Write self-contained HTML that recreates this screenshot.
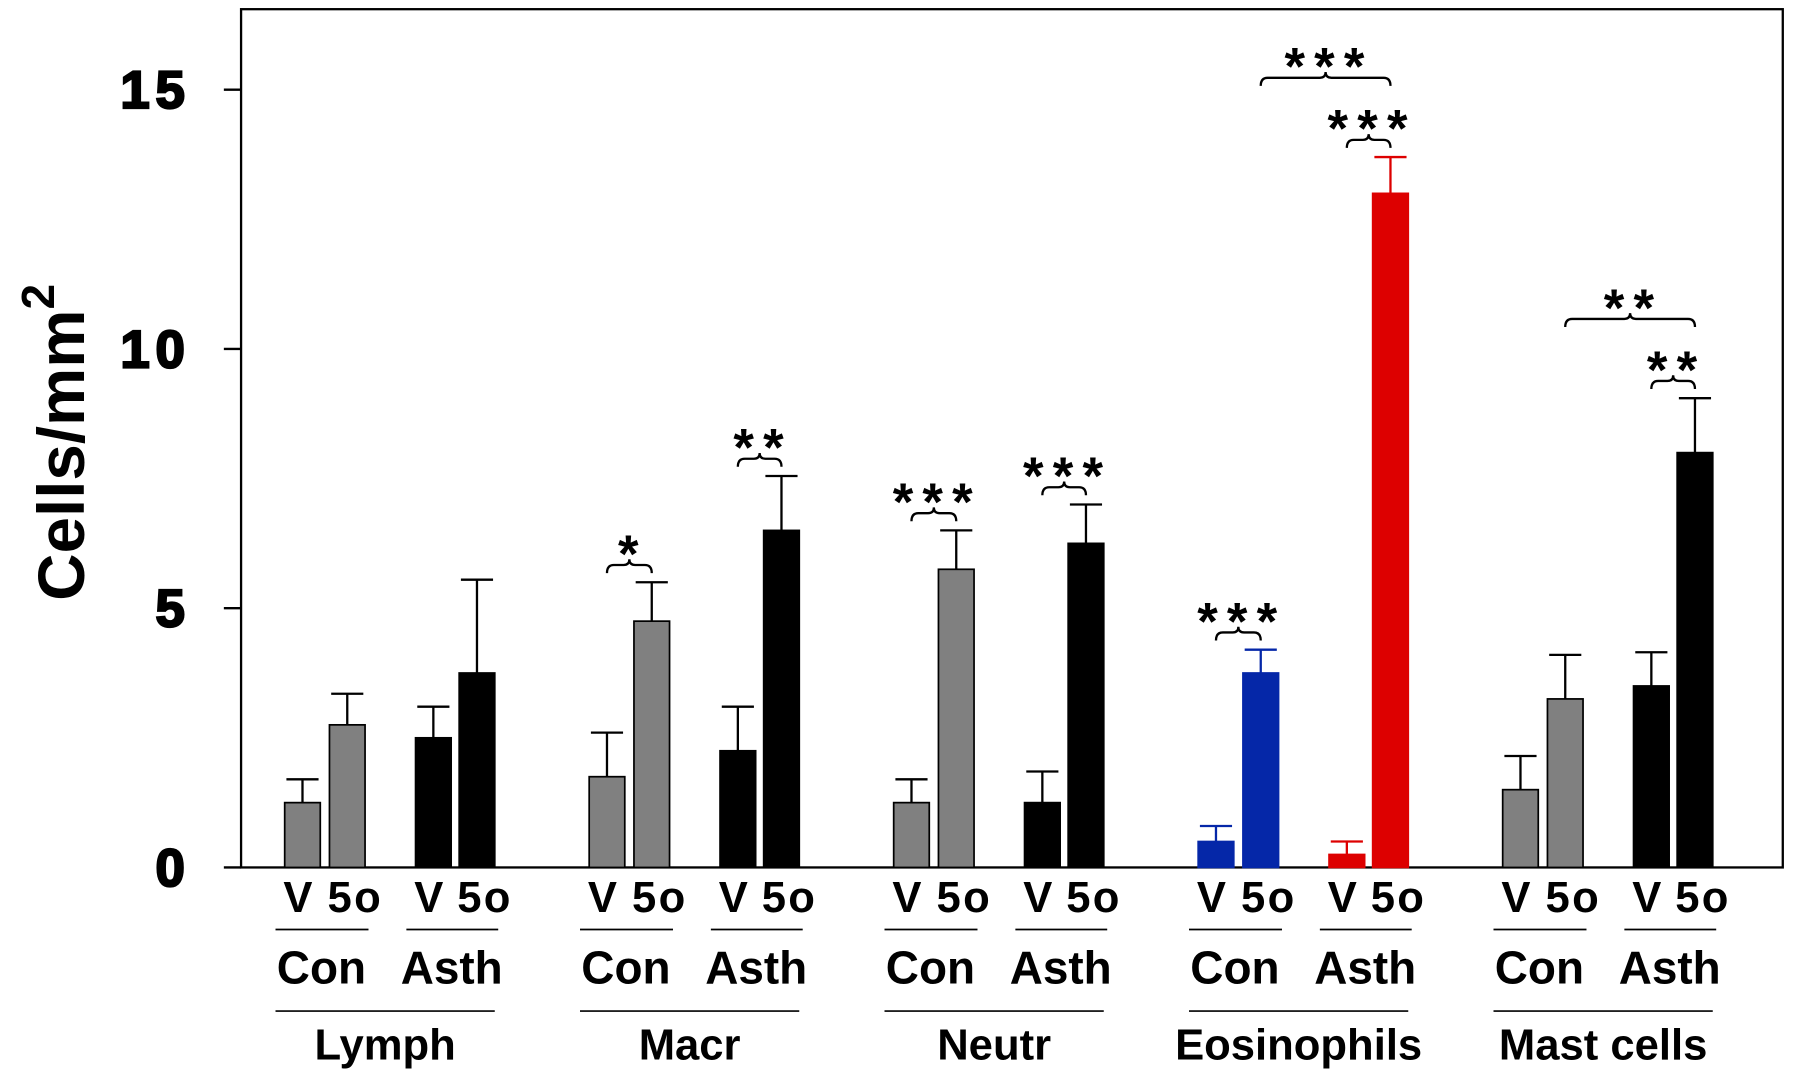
<!DOCTYPE html>
<html><head><meta charset="utf-8"><style>
html,body{margin:0;padding:0;background:#fff;}
svg{display:block;}
text{font-family:"Liberation Sans",sans-serif;font-weight:bold;fill:#000;}
</style></head><body>
<svg id="chart" width="1800" height="1080" viewBox="0 0 1568 940" preserveAspectRatio="none" xmlns="http://www.w3.org/2000/svg">
<rect x="210" y="8" width="1343" height="747" fill="none" stroke="#000" stroke-width="2"/>
<g id="yaxis"></g>
<text transform="translate(73,385) rotate(-90)" text-anchor="middle" font-size="57">Cells/mm<tspan dy="-26" font-size="40">2</tspan></text>
<g id="bars"></g>
<g id="labels"></g>
<g id="annots"></g>
</svg>
<script>
const groups = ["Lymph","Macr","Neutr","Eosinophils","Mast cells"];
const conditions = ["Con","Asth"];
const treatments = ["V","5o"];
const yTicks = [0,5,10,15];
const values = [1.25,2.75,2.5,3.75, 1.75,4.75,2.25,6.5, 1.25,5.75,1.25,6.25, 0.5,3.75,0.25,13.0, 1.5,3.25,3.5,8.0];
const errTops = [1.7,3.35,3.1,5.55, 2.6,5.5,3.1,7.55, 1.7,6.5,1.85,7.0, 0.8,4.2,0.5,13.7, 2.15,4.1,4.15,9.05];
const pairStars = [[4,5,"*"],[6,7,"**"],[8,9,"***"],[10,11,"***"],[12,13,"***"],[14,15,"***"],[18,19,"**"]];
const bigStars = [[13,15,"***"],[17,19,"**"]];

const NS="http://www.w3.org/2000/svg";
const y0=755, pxPerUnit=45.13;
function yS(v){return y0-v*pxPerUnit;}
const offs=[0,39,114,152];
function xS(i){return 248+Math.floor(i/4)*265.25+offs[i%4];}
const BW=31;
function fillOf(i){ if(i===12||i===13) return "#0527A8"; if(i===14||i===15) return "#DD0000"; return (i%4<2)?"#808080":"#000"; }
function mk(tag,attrs,parent){const e=document.createElementNS(NS,tag);for(const k in attrs)e.setAttribute(k,attrs[k]);parent.appendChild(e);return e;}

const ya=document.getElementById('yaxis');
yTicks.forEach(t=>{
  const l=mk('line',{x1:195,x2:210,y1:yS(t),y2:yS(t),stroke:"#000","stroke-width":2},ya);
  
  
  const tx=mk('text',{x:166,y:yS(t)+16,"text-anchor":"end","font-size":46,"stroke":"#000","stroke-width":2,"letter-spacing":"5"},ya);
  tx.textContent=t;
  
  
});

const bg=document.getElementById('bars');
values.forEach((v,i)=>{
  const x=xS(i), c=fillOf(i), colored=(i>=12&&i<=15);
  const ec=colored?c:"#000";
  const el=mk('line',{x1:x+BW/2,x2:x+BW/2,y1:yS(v),y2:yS(errTops[i]),stroke:ec,"stroke-width":2},bg);
  
  
  const cap=mk('line',{x1:x+BW/2-14,x2:x+BW/2+14,y1:yS(errTops[i]),y2:yS(errTops[i]),stroke:ec,"stroke-width":2},bg);
  
  
  const r=mk('rect',{x:x,y:yS(v),width:BW,height:v*pxPerUnit,fill:c,stroke:colored?c:"#000","stroke-width":1.5},bg);
  
  
});

const lg=document.getElementById('labels');
groups.forEach((g,gi)=>{
  conditions.forEach((c,ci)=>{
    const xa=xS(gi*4+ci*2), xb=xS(gi*4+ci*2+1);
    const t1=mk('text',{x:xa+BW/2-4,y:794,"text-anchor":"middle","font-size":38},lg);
    t1.textContent="V";
    
    
    const t2=mk('text',{x:xb+BW/2+7,y:794,"text-anchor":"middle","font-size":38,"letter-spacing":"2"},lg);
    t2.textContent="5o";
    
    
    const ln=mk('line',{x1:xa-8,x2:xb+BW+3,y1:809,y2:809,stroke:"#000","stroke-width":1.5},lg);
    
    
    const t3=mk('text',{x:(xa+xb+BW)/2-3,y:856,"text-anchor":"middle","font-size":40},lg);
    t3.textContent=c;
    
    
  });
  const xa=xS(gi*4), xb=xS(gi*4+3);
  const ln=mk('line',{x1:xa-8,x2:xb+BW,y1:880,y2:880,stroke:"#000","stroke-width":1.5},lg);
  
  
  const t=mk('text',{x:(xa+xb+BW)/2-4,y:922,"text-anchor":"middle","font-size":38},lg);
  t.textContent=g;
  
  
});

const an=document.getElementById('annots');
function brace(x1,x2,y){
  const m=(x1+x2)/2;
  const d=`M${x1},${y+7} Q${x1},${y} ${x1+6},${y} L${m-5},${y} Q${m},${y} ${m},${y-5} Q${m},${y} ${m+5},${y} L${x2-6},${y} Q${x2},${y} ${x2},${y+7}`;
  const p=mk('path',{d:d,fill:"none",stroke:"#000","stroke-width":2},an);
  
  
}
function stars(x,y,s){
  const t=mk('text',{x:x+3,y:y,"text-anchor":"middle","font-size":46,"letter-spacing":"8"},an);
  t.textContent=s;
  
  
}
const smallY={};
pairStars.forEach(([a,b,s])=>{
  const y=yS(errTops[b])-15;
  smallY[b]=y;
  const x1=xS(a)+BW/2, x2=xS(b)+BW/2;
  brace(x1,x2,y);
  stars((x1+x2)/2,y+6,s);
});
bigStars.forEach(([a,b,s])=>{
  const y=smallY[b]-54;
  const x1=xS(a)+BW/2, x2=xS(b)+BW/2;
  brace(x1,x2,y);
  stars((x1+x2)/2,y+6,s);
});
</script>
</body></html>
